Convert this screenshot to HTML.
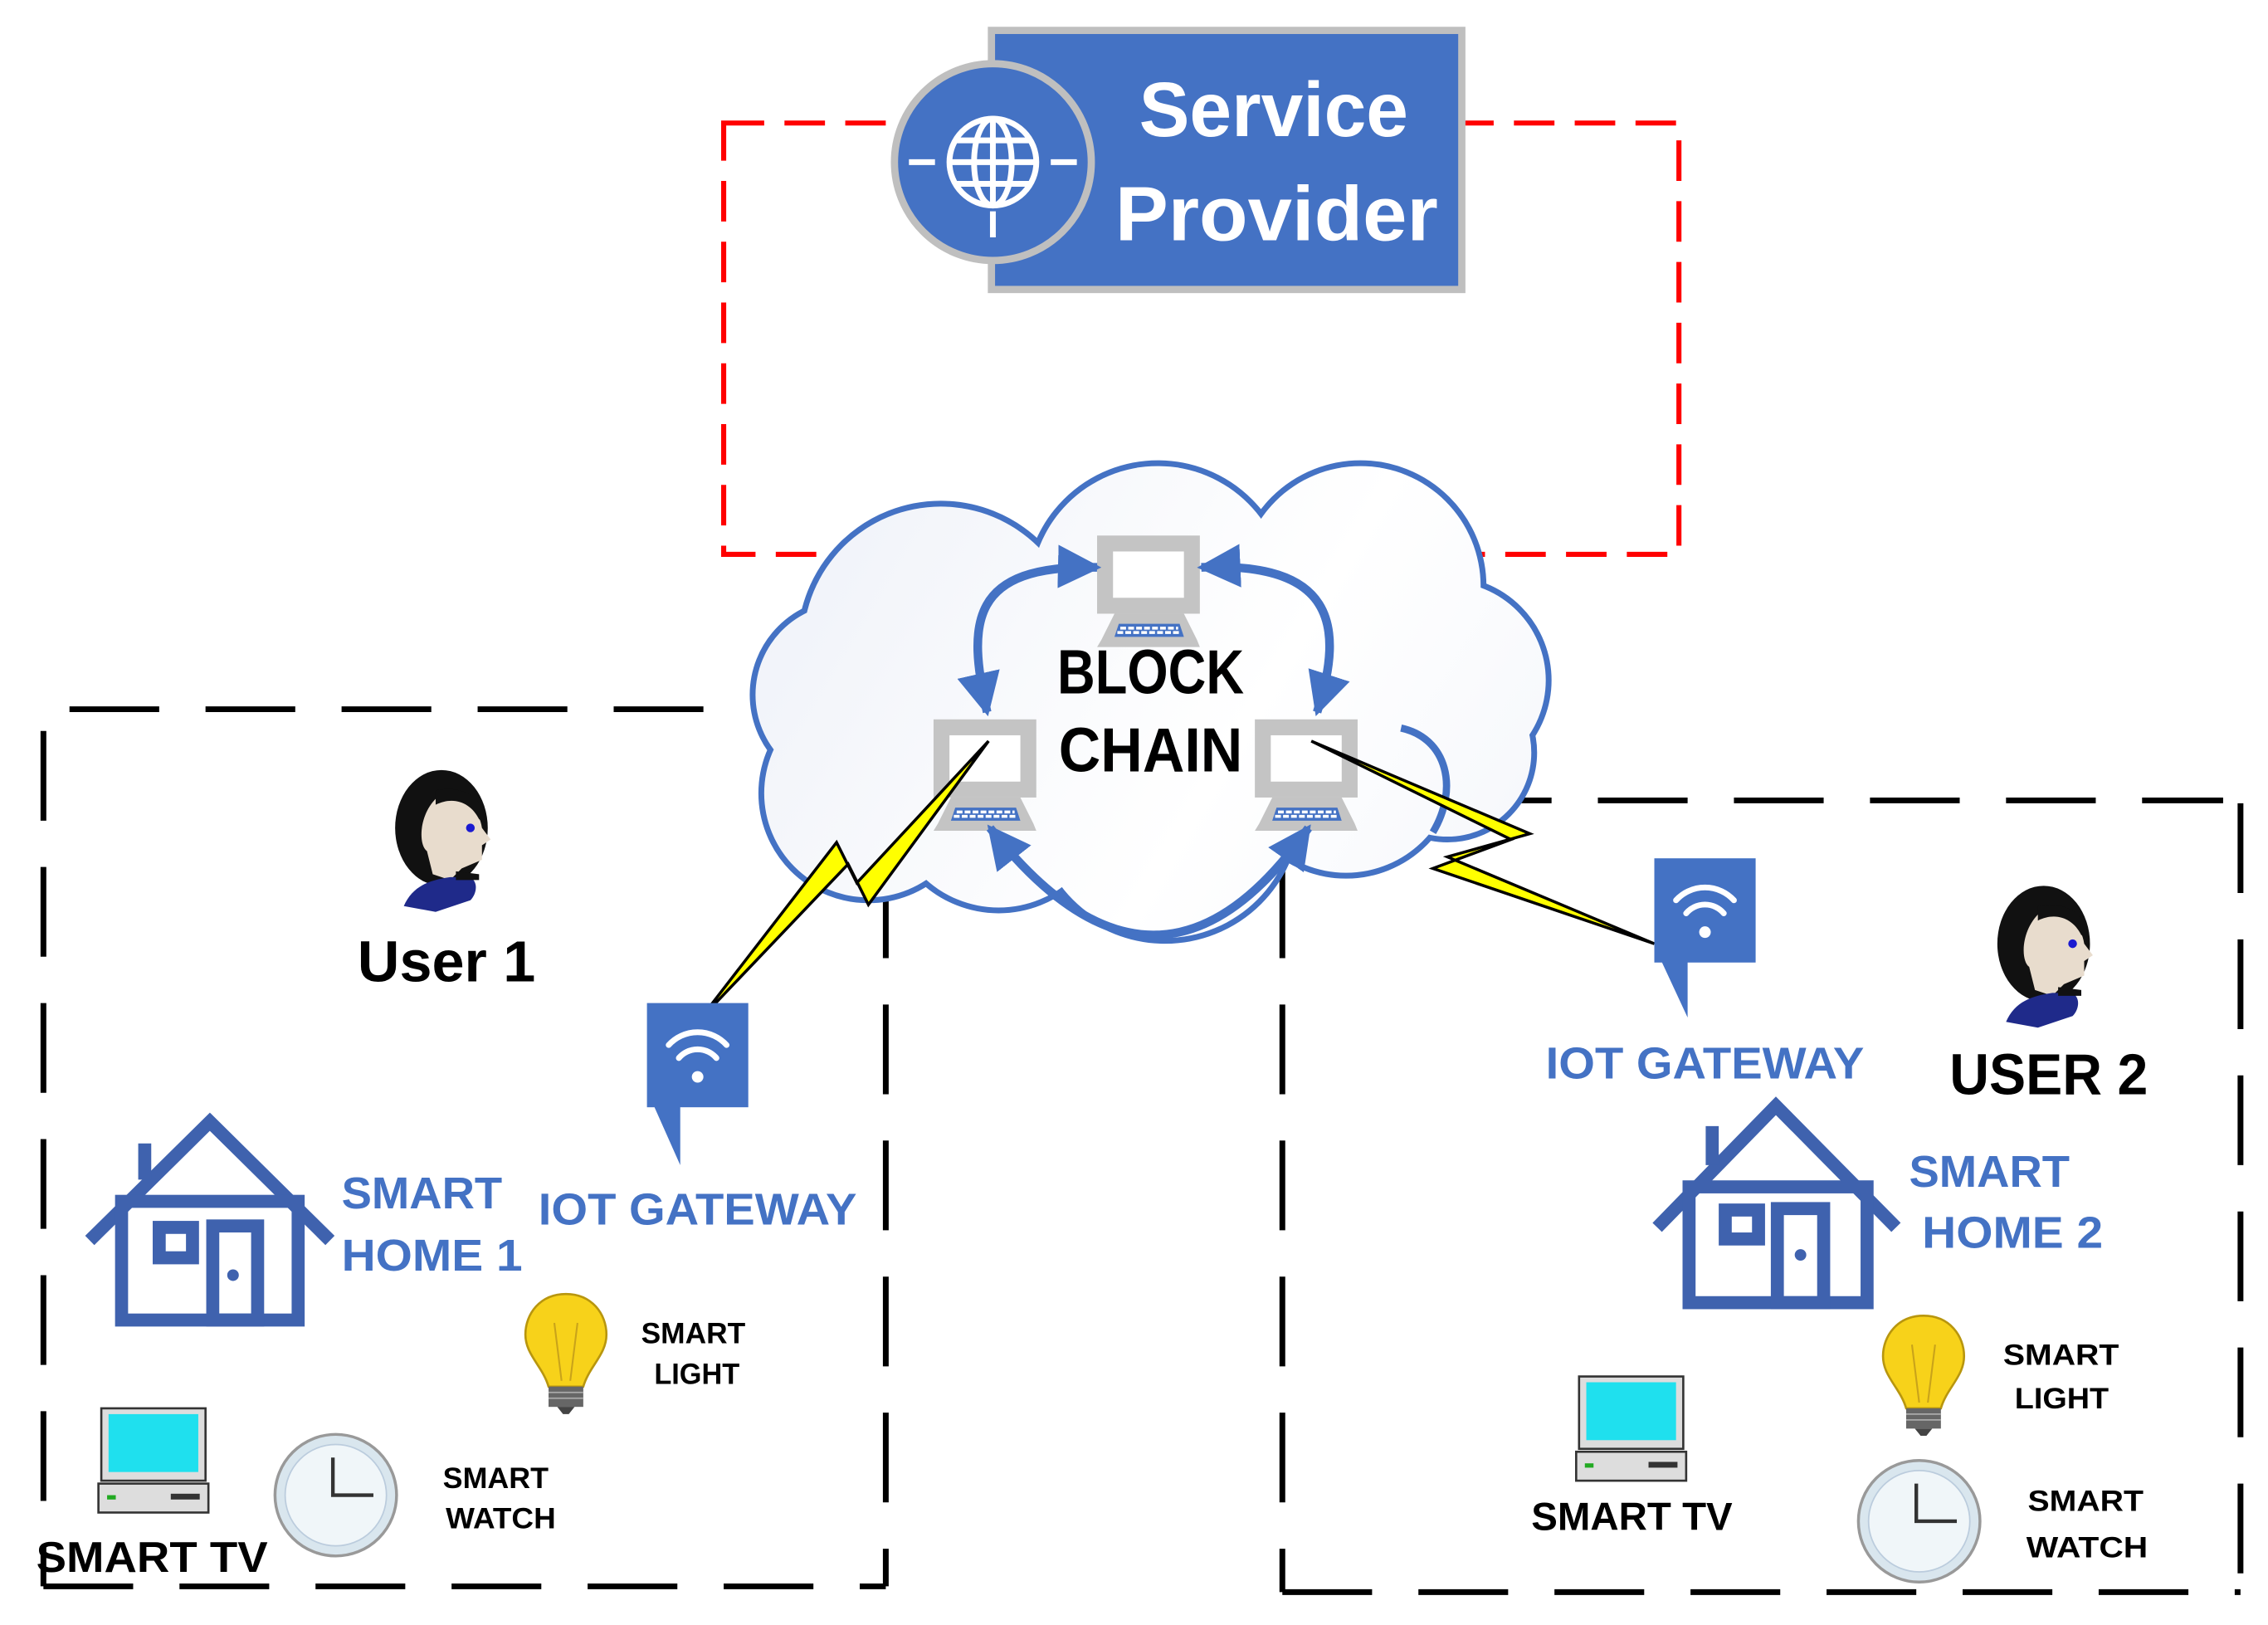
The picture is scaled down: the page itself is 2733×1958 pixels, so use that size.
<!DOCTYPE html>
<html><head><meta charset="utf-8"><style>html,body{margin:0;padding:0;background:#fff}svg{display:block}text{font-family:"Liberation Sans",sans-serif;font-weight:bold}</style></head><body>
<svg width="2733" height="1958" viewBox="0 0 1567 1122.7" preserveAspectRatio="none" xmlns="http://www.w3.org/2000/svg">
<defs>
<marker id="ah" viewBox="0 0 10 10" refX="9" refY="5" markerWidth="5" markerHeight="5" orient="auto-start-reverse" markerUnits="strokeWidth"><path d="M0,0 L10,5 L0,10 Z" fill="#4472C4"/></marker>
<linearGradient id="cg" gradientUnits="userSpaceOnUse" x1="520" y1="320" x2="1070" y2="650"><stop offset="0" stop-color="#eef1f8"/><stop offset="0.6" stop-color="#ffffff"/><stop offset="1" stop-color="#f4f6fb"/></linearGradient>
<g id="pc"><rect x="5.5" y="5.5" width="60" height="43" fill="#fff" stroke="#c4c4c4" stroke-width="11"/><path d="M0,77 L3,72 L12,54 L60,54 L69,72 L71,77 Z" fill="#c4c4c4"/><path d="M12,70 L15,61 L57,61 L60,70 Z" fill="#4472C4"/><path d="M16,64 H56 M14,67 H58" stroke="#fff" stroke-width="2" stroke-dasharray="4 1.5"/></g>
<g id="tv"><rect x="0" y="0" width="72" height="50" fill="#ddd" stroke="#333" stroke-width="1.5"/><rect x="5" y="4" width="62" height="40" fill="#1fe0ee"/><rect x="-2" y="52" width="76" height="20" fill="#ddd" stroke="#333" stroke-width="1.5"/><rect x="4" y="60" width="6" height="3" fill="#2a2"/><rect x="48" y="59" width="20" height="4" fill="#333"/></g>
<g id="clk"><circle r="42" fill="#d9e6ee" stroke="#999" stroke-width="2"/><circle r="35" fill="#f0f6f9" stroke="#bcd" stroke-width="1"/><path d="M-2,-26 V0 H26" stroke="#333" stroke-width="2.5" fill="none"/></g>
<g id="bulb"><path d="M0,0 C-18,0 -28,14 -28,28 C-28,42 -16,50 -12,64 L12,64 C16,50 28,42 28,28 C28,14 18,0 0,0 Z" fill="#f7d21a" stroke="#b8960e" stroke-width="1.5"/><path d="M-8,20 L-3,60 M8,20 L3,60" stroke="#c9a31a" stroke-width="1.2"/><rect x="-12" y="64" width="24" height="14" fill="#666"/><path d="M-12,68 H12 M-12,72 H12" stroke="#aaa"/><path d="M-6,78 H6 L2,83 H-2 Z" fill="#444"/></g>
<g id="person"><ellipse cx="0" cy="0" rx="32" ry="40" fill="#111"/><path d="M-2,-22 C14,-24 26,-14 28,0 L34,8 L28,12 L28,22 L14,28 L6,36 L-6,32 L-10,16 C-16,12 -16,-10 -2,-22 Z" fill="#e8dccd"/><path d="M-4,-26 C16,-30 30,-20 30,-4 L26,-6 C20,-18 8,-22 -4,-16 Z" fill="#111"/><circle cx="20" cy="0" r="3" fill="#1a1ad0"/><path d="M-26,54 C-20,40 -8,36 6,34 L20,34 C26,38 24,46 20,50 L-4,58 Z" fill="#1f2a8a"/><path d="M10,30 L26,32 L26,36 L10,36 Z" fill="#111"/></g>
</defs>

<rect x="500" y="85" width="660" height="298" fill="none" stroke="#ff0000" stroke-width="3.5" stroke-dasharray="28 14"/>

<g stroke="#000" stroke-width="4" fill="none" stroke-dasharray="62 32">
<path d="M48,490 H492"/><path d="M30,505 V1096"/><path d="M30,1096 H612"/><path d="M612,600 V1096"/>
<path d="M1010,553 H1536"/><path d="M886,600 V1100"/><path d="M886,1100 H1548"/><path d="M1548,555 V1100"/>
</g>

<g stroke="#4472C4" stroke-width="8" fill="#4472C4">
<circle cx="650" cy="445" r="95"/><circle cx="800" cy="410" r="88"/><circle cx="940" cy="405" r="83"/><circle cx="1000" cy="470" r="68"/><circle cx="585" cy="480" r="63"/><circle cx="600" cy="548" r="72"/><circle cx="690" cy="552" r="75"/><circle cx="805" cy="558" r="90"/><circle cx="930" cy="528" r="75"/><circle cx="1000" cy="520" r="58"/>
</g>
<g fill="url(#cg)">
<circle cx="650" cy="445" r="95"/><circle cx="800" cy="410" r="88"/><circle cx="940" cy="405" r="83"/><circle cx="1000" cy="470" r="68"/><circle cx="585" cy="480" r="63"/><circle cx="600" cy="548" r="72"/><circle cx="690" cy="552" r="75"/><circle cx="805" cy="558" r="90"/><circle cx="930" cy="528" r="75"/><circle cx="1000" cy="520" r="58"/>
<ellipse cx="800" cy="490" rx="190" ry="95"/>
</g>

<rect x="685" y="21" width="325" height="179" fill="#4472C4" stroke="#bfbfbf" stroke-width="5"/>
<circle cx="686" cy="112" r="68" fill="#4472C4" stroke="#bfbfbf" stroke-width="5"/>
<g stroke="#fff" stroke-width="4" fill="none">
<circle cx="686" cy="112" r="30"/><ellipse cx="686" cy="112" rx="13" ry="30"/><path d="M686,82 V142 M656,112 H716 M660,97 H712 M660,127 H712"/>
<path d="M628,112 H646 M726,112 H744 M686,146 V164"/>
</g>
<text x="880" y="94" font-size="53" fill="#fff" text-anchor="middle" textLength="186" lengthAdjust="spacingAndGlyphs">Service</text>
<text x="882" y="166" font-size="53" fill="#fff" text-anchor="middle" textLength="223" lengthAdjust="spacingAndGlyphs">Provider</text>

<use href="#pc" x="758" y="370"/><use href="#pc" x="645" y="497"/><use href="#pc" x="867" y="497"/>

<g stroke="#4472C4" stroke-width="6" fill="none" marker-start="url(#ah)" marker-end="url(#ah)">
<path d="M682,492 C668,430 670,390 758,392"/>
<path d="M830,392 C920,388 930,430 910,492"/>
<path d="M684,572 Q800,720 904,572"/>
</g>
<path d="M968,503 C1000,510 1008,545 990,575" stroke="#4472C4" stroke-width="5" fill="none"/>

<text x="795" y="479" font-size="43" text-anchor="middle" textLength="129" lengthAdjust="spacingAndGlyphs">BLOCK</text>
<text x="795" y="533" font-size="43" text-anchor="middle" textLength="127" lengthAdjust="spacingAndGlyphs">CHAIN</text>

<polygon points="483,705 578,582 592,610 683,512 600,625 586,597" fill="#ffff00" stroke="#000" stroke-width="2"/>
<polygon points="906,512 1057,576 1000,592 1143,652 990,600 1044,580" fill="#ffff00" stroke="#000" stroke-width="2"/>

<g fill="#4472C4"><rect x="447" y="693" width="70" height="72"/><polygon points="450,760 470,760 470,805"/>
<rect x="1143" y="593" width="70" height="72"/><polygon points="1146,660 1166,660 1166,703"/></g>
<g stroke="#fff" stroke-width="4" fill="none" stroke-linecap="round">
<path d="M462,722 A27,27 0 0 1 502,722 M469,731 A17,17 0 0 1 495,731"/>
<path d="M1158,622 A27,27 0 0 1 1198,622 M1165,631 A17,17 0 0 1 1191,631"/>
</g>
<circle cx="482" cy="744" r="4" fill="#fff"/><circle cx="1178" cy="644" r="4" fill="#fff"/>

<g stroke="#3F62AE" stroke-width="9" fill="none">
<path d="M62,857 L145,775 L228,857"/><path d="M100,790 V815"/><rect x="84" y="830" width="122" height="82"/><rect x="110" y="848" width="23" height="21"/><rect x="147" y="847" width="31" height="65"/>
<path d="M1145,848 L1227,764 L1310,848"/><path d="M1183,778 V805"/><rect x="1167" y="820" width="123" height="80"/><rect x="1192" y="836" width="23" height="20"/><rect x="1228" y="835" width="32" height="65"/>
</g>
<circle cx="161" cy="881" r="4" fill="#3F62AE"/><circle cx="1244" cy="867" r="4" fill="#3F62AE"/>

<use href="#person" x="305" y="572"/><use href="#person" x="1412" y="652"/>

<use href="#bulb" x="391" y="894"/><use href="#bulb" x="1329" y="909"/>
<use href="#tv" x="70" y="973"/><use href="#tv" x="1091" y="951"/>
<use href="#clk" x="232" y="1033"/><use href="#clk" x="1326" y="1051"/>

<text x="247" y="678" font-size="40" textLength="123" lengthAdjust="spacingAndGlyphs">User 1</text>
<text x="1347" y="756" font-size="40" textLength="137" lengthAdjust="spacingAndGlyphs">USER 2</text>
<g fill="#4472C4" font-size="31">
<text x="236" y="835" textLength="111" lengthAdjust="spacingAndGlyphs">SMART</text>
<text x="236" y="878" textLength="125" lengthAdjust="spacingAndGlyphs">HOME 1</text>
<text x="372" y="846" textLength="220" lengthAdjust="spacingAndGlyphs">IOT GATEWAY</text>
<text x="1068" y="745" textLength="220" lengthAdjust="spacingAndGlyphs">IOT GATEWAY</text>
<text x="1319" y="820" textLength="111" lengthAdjust="spacingAndGlyphs">SMART</text>
<text x="1328" y="862" textLength="125" lengthAdjust="spacingAndGlyphs">HOME 2</text>
</g>
<g font-size="20">
<text x="443" y="928" textLength="72" lengthAdjust="spacingAndGlyphs">SMART</text>
<text x="452" y="956" textLength="59" lengthAdjust="spacingAndGlyphs">LIGHT</text>
<text x="306" y="1028" textLength="73" lengthAdjust="spacingAndGlyphs">SMART</text>
<text x="308" y="1056" textLength="76" lengthAdjust="spacingAndGlyphs">WATCH</text>
<text x="1384" y="943" textLength="80" lengthAdjust="spacingAndGlyphs">SMART</text>
<text x="1392" y="973" textLength="65" lengthAdjust="spacingAndGlyphs">LIGHT</text>
<text x="1401" y="1044" textLength="80" lengthAdjust="spacingAndGlyphs">SMART</text>
<text x="1400" y="1076" textLength="84" lengthAdjust="spacingAndGlyphs">WATCH</text>
</g>
<text x="25" y="1086" font-size="30" textLength="160" lengthAdjust="spacingAndGlyphs">SMART TV</text>
<text x="1058" y="1057" font-size="27" textLength="139" lengthAdjust="spacingAndGlyphs">SMART TV</text>
</svg>
</body></html>
